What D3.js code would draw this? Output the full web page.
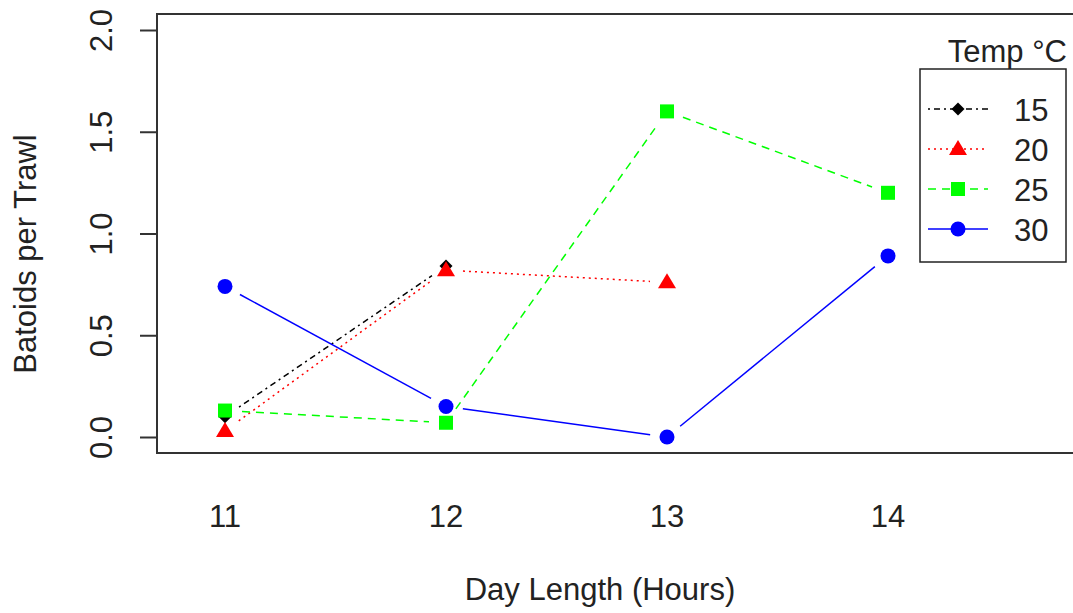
<!DOCTYPE html>
<html>
<head>
<meta charset="utf-8">
<script src="https://cdn.jsdelivr.net/npm/d3@7"></script>
<style>
  body { margin: 0; background: #fff; }
  text { font-family: "Liberation Sans", Arial, sans-serif; fill: #222; }
</style>
</head>
<body>
<div id="chart"></div>
<script>
const dayLengths = [11, 12, 13, 14];
const yTicks = [0, 0.5, 1, 1.5, 2];

const temp15 = [0.1, 0.84, null, null];
const temp20 = [0.03, 0.82, 0.76, null];
const temp25 = [0.13, 0.07, 1.6, 1.2];
const temp30 = [0.74, 0.15, 0, 0.89];

const seriesList = [
  { label: "15", values: temp15, color: "#000000", dash: "2,4,6,4", shape: "diamond" },
  { label: "20", values: temp20, color: "#ff0000", dash: "2,4", shape: "triangle" },
  { label: "25", values: temp25, color: "#00ff00", dash: "8,6", shape: "square" },
  { label: "30", values: temp30, color: "#0000ff", dash: null, shape: "circle" },
];

const width = 1073;
const height = 613;
const box = { left: 157, top: 14, right: 1085, bottom: 453 };
const fontSize = 31;

const svg = d3.select("#chart").append("svg")
  .attr("width", width)
  .attr("height", height);

const x = d3.scaleLinear().domain([11, 14]).range([225, 888]);
const y = d3.scaleLinear().domain([0, 2]).range([437, 30]);

// plot frame
svg.append("rect")
  .attr("x", box.left).attr("y", box.top)
  .attr("width", box.right - box.left).attr("height", box.bottom - box.top)
  .attr("fill", "none").attr("stroke", "#333").attr("stroke-width", 2);

// y axis, ticks on the left, labels turned like R's las = 0
const yAxis = svg.append("g")
  .attr("transform", `translate(${box.left},0)`)
  .call(d3.axisLeft(y).tickValues(yTicks).tickSize(17).tickFormat(d3.format(".1f")));
yAxis.select(".domain").remove();
yAxis.selectAll("line").attr("stroke", "#333").attr("stroke-width", 2);
yAxis.selectAll(".tick text")
  .attr("x", 0).attr("y", 0).attr("dy", 0)
  .attr("transform", "translate(-45,0) rotate(-90)")
  .attr("text-anchor", "middle")
  .attr("font-size", fontSize)
  .attr("fill", "#222");

// x tick labels, no tick marks
svg.append("g")
  .selectAll("text")
  .data(dayLengths)
  .enter()
  .append("text")
  .attr("x", (d) => x(d))
  .attr("y", 527)
  .attr("text-anchor", "middle")
  .attr("font-size", fontSize)
  .text((d) => d);

svg.append("text")
  .attr("x", 600).attr("y", 600)
  .attr("text-anchor", "middle")
  .attr("font-size", fontSize)
  .text("Day Length (Hours)");

svg.append("text")
  .attr("transform", "translate(36,254) rotate(-90)")
  .attr("text-anchor", "middle")
  .attr("font-size", fontSize)
  .text("Batoids per Trawl");

function drawSymbol(g, shape, cx, cy, color) {
  if (shape === "circle") {
    g.append("circle").attr("cx", cx).attr("cy", cy).attr("r", 7.5).attr("fill", color);
  } else if (shape === "square") {
    g.append("rect").attr("x", cx - 7).attr("y", cy - 7).attr("width", 14).attr("height", 14).attr("fill", color);
  } else if (shape === "triangle") {
    g.append("path")
      .attr("d", `M${cx},${cy - 9}L${cx + 9},${cy + 6}L${cx - 9},${cy + 6}Z`)
      .attr("fill", color);
  } else {
    g.append("path")
      .attr("d", `M${cx},${cy - 6.5}L${cx + 6.5},${cy}L${cx},${cy + 6.5}L${cx - 6.5},${cy}Z`)
      .attr("fill", color);
  }
}

// lines with a gap around each point (type = "b")
const gap = 17;
seriesList.forEach((s) => {
  const g = svg.append("g");
  const pts = s.values
    .map((v, i) => (v === null ? null : [x(dayLengths[i]), y(v)]))
    .filter((p) => p);
  for (let i = 0; i < pts.length - 1; i++) {
    const [x0, y0] = pts[i];
    const [x1, y1] = pts[i + 1];
    const len = Math.hypot(x1 - x0, y1 - y0);
    const ux = (x1 - x0) / len;
    const uy = (y1 - y0) / len;
    g.append("line")
      .attr("x1", x0 + ux * gap).attr("y1", y0 + uy * gap)
      .attr("x2", x1 - ux * gap).attr("y2", y1 - uy * gap)
      .attr("stroke", s.color)
      .attr("stroke-width", 1.5)
      .attr("stroke-dasharray", s.dash);
  }
  pts.forEach(([px, py]) => drawSymbol(g, s.shape, px, py, s.color));
});

// legend
const legend = svg.append("g");
legend.append("rect")
  .attr("x", 920).attr("y", 69).attr("width", 146).attr("height", 193)
  .attr("fill", "#fff").attr("stroke", "#222").attr("stroke-width", 1.5);
legend.append("text")
  .attr("x", 1067).attr("y", 62)
  .attr("text-anchor", "end")
  .attr("font-size", fontSize)
  .text("Temp °C");

seriesList.forEach((s, i) => {
  const ly = 109 + i * 40;
  legend.append("line")
    .attr("x1", 928).attr("x2", 988)
    .attr("y1", ly).attr("y2", ly)
    .attr("stroke", s.color).attr("stroke-width", 1.5)
    .attr("stroke-dasharray", s.dash);
  drawSymbol(legend, s.shape, 958, ly, s.color);
  legend.append("text")
    .attr("x", 1014).attr("y", ly + 12)
    .attr("font-size", fontSize)
    .text(s.label);
});
</script>
</body>
</html>
